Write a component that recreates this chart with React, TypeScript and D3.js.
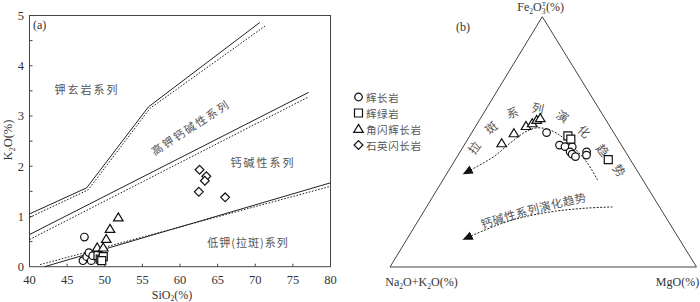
import React from "react";
import * as d3 from "d3";

// ---- panel (a): SiO2 vs K2O ----
const xTicks = [40, 45, 50, 55, 60, 65, 70, 75, 80];
const yTicks = [0, 1, 2, 3, 4, 5];

// boundary lines [SiO2, K2O]
const shoshSolid = [[40, 1.05], [47.6, 1.57], [55.8, 3.18], [70.6, 4.86]];
const shoshDotted = [[40, 0.98], [47.8, 1.53], [56, 3.15], [71.3, 4.79]];
const hkSolid = [[40, 0.64], [77.1, 3.47]];
const hkDotted = [[40, 0.54], [77.1, 3.38]];
const lowSolid = [[42, 0], [80, 1.67]];
const lowDotted = [[41.4, 0.04], [80, 1.6]];

// samples [SiO2, K2O]
const gabbroA = [[47.3, 0.59], [47.1, 0.12], [47.6, 0.2], [47.9, 0.28], [48.2, 0.12], [48.4, 0.22]];
const diabaseA = [[49.1, 0.22], [49.4, 0.15], [49.8, 0.2], [49.6, 0.12]];
const hornGabbroA = [[51.8, 0.98], [50.7, 0.75], [50.2, 0.55], [49.0, 0.38], [49.8, 0.38]];
const qzDioriteA = [[62.6, 1.93], [63.5, 1.8], [63.3, 1.71], [62.5, 1.49], [66.0, 1.38]];

// ---- panel (b): ternary [Na2O+K2O, Fe2O3T, MgO] ----
const gabbroB = [
  [21.9, 53.7, 24.4], [20.2, 48.7, 31.1], [18.7, 48.1, 33.2], [16.4, 48.0, 35.6],
  [18.1, 46.0, 35.9], [17.9, 45.1, 37.0], [17.3, 44.1, 38.6], [12.7, 46.0, 41.3], [13.4, 44.7, 41.9],
];
const diabaseB = [[15.6, 52.4, 32.0], [15.3, 51.1, 33.6], [7.2, 42.9, 49.9]];
const hornGabbroB = [
  [38.7, 49.4, 11.9], [32.7, 53.4, 13.9], [27.3, 56.3, 16.4],
  [24.7, 57.4, 17.9], [22.6, 58.7, 18.7], [21.1, 59.4, 19.5],
];
const thTrend = [
  [14.8, 34.7, 50.5], [14.7, 41.5, 43.8], [16.1, 47.9, 36.0], [18.6, 53.3, 28.1],
  [21.5, 55.3, 23.2], [24.7, 55.5, 19.8], [28.8, 53.9, 17.3], [35.9, 49.5, 14.6],
  [44.3, 43.9, 11.8], [57.6, 37.1, 5.3],
];
const caTrend = [
  [15.3, 24.0, 60.7], [24.3, 23.5, 52.2], [34.8, 22.3, 42.9],
  [45.8, 20.1, 34.1], [56.7, 16.7, 26.6], [70.8, 10.9, 18.3],
];

const legendNames = ["辉长岩", "辉绿岩", "角闪辉长岩", "石英闪长岩"];
const legendShapes = ["circle", "square", "triangle", "diamond"];

const serif = "Liberation Serif, DejaVu Serif, serif";
const cjk = "Noto Sans CJK SC, sans-serif";
const ink = "#222";

function marker(shape: string, x: number, y: number) {
  if (shape === "circle") {
    const p = d3.path();
    p.arc(x, y, 3.8, 0, Math.PI * 2);
    return p.toString();
  }
  if (shape === "square") {
    const s = 4;
    return `M${x - s},${y - s}H${x + s}V${y + s}H${x - s}Z`;
  }
  if (shape === "triangle") {
    const h = 4.6;
    return `M${x},${y - h}L${x + 4.8},${y + 3.4}L${x - 4.8},${y + 3.4}Z`;
  }
  const d = 4.4;
  return `M${x},${y - d}L${x + d},${y}L${x},${y + d}L${x - d},${y}Z`;
}

export default function App() {
  const x = d3.scaleLinear().domain([40, 80]).range([29.5, 330.5]);
  const y = d3.scaleLinear().domain([0, 5]).range([266.7, 15.5]);
  const line = d3
    .line<number[]>()
    .x((d) => x(d[0]))
    .y((d) => y(d[1]));

  // ternary vertices
  const BL = [390, 267];
  const TP = [542.3, 16.7];
  const BR = [696.5, 267];
  const tern = (d: number[]) => {
    const s = d[0] + d[1] + d[2];
    const a = d[0] / s, f = d[1] / s, m = d[2] / s;
    return [a * BL[0] + f * TP[0] + m * BR[0], a * BL[1] + f * TP[1] + m * BR[1]];
  };
  const tline = d3
    .line<number[]>()
    .x((d) => tern(d)[0])
    .y((d) => tern(d)[1])
    .curve(d3.curveCatmullRom);

  const minorY = d3.range(0, 5.01, 0.5);
  const groupsA: [string, number[][]][] = [
    ["circle", gabbroA],
    ["square", diabaseA],
    ["triangle", hornGabbroA],
    ["diamond", qzDioriteA],
  ];
  const groupsB: [string, number[][]][] = [
    ["circle", gabbroB],
    ["square", diabaseB],
    ["triangle", hornGabbroB],
  ];

  return (
    <svg
      width={700}
      height={302}
      style={{ position: "absolute", left: 0, top: 0, background: "#fff" }}
    >
      <defs>
        <marker
          id="arr"
          markerUnits="userSpaceOnUse"
          markerWidth={12}
          markerHeight={10}
          refX={10}
          refY={4.5}
          orient="auto"
        >
          <path d="M0,0L10,4.5L0,9Z" fill="#111" />
        </marker>
        <path id="thPath" d="M470,152 Q538,48 632,186" />
        <path id="caPath" d="M481,224 Q536,206 594,195" />
      </defs>

      {/* ---- panel (a) ---- */}
      <rect
        x={x(40)}
        y={y(5)}
        width={x(80) - x(40)}
        height={y(0) - y(5)}
        fill="none"
        stroke="#444"
        strokeWidth={1}
      />
      {xTicks.map((t) =>
        t > 40 && t < 80 ? (
          <line key={"xt" + t} x1={x(t)} x2={x(t)} y1={y(0)} y2={y(0) - 3} stroke="#444" />
        ) : null
      )}
      {minorY.map((t) =>
        t > 0 && t < 5 ? (
          <line key={"yt" + t} x1={x(40)} x2={x(40) + 3} y1={y(t)} y2={y(t)} stroke="#444" />
        ) : null
      )}
      {xTicks.map((t) => (
        <text
          key={"xl" + t}
          x={x(t)}
          y={284}
          textAnchor="middle"
          fontFamily={serif}
          fontSize={12.5}
          fill="#333"
        >
          {t}
        </text>
      ))}
      {yTicks.map((t) => (
        <text
          key={"yl" + t}
          x={24}
          y={y(t) + 4.5}
          textAnchor="end"
          fontFamily={serif}
          fontSize={12.5}
          fill="#333"
        >
          {t}
        </text>
      ))}
      <text x={172} y={298.5} textAnchor="middle" fontFamily={serif} fontSize={12} fill="#333">
        SiO<tspan fontSize={7.5} dy={2.5}>2</tspan>
        <tspan dy={-2.5}>(%)</tspan>
      </text>
      <text
        transform="translate(12,140) rotate(-90)"
        textAnchor="middle"
        fontFamily={serif}
        fontSize={12.5}
        fill="#333"
      >
        K<tspan fontSize={8} dy={3}>2</tspan>
        <tspan dy={-3}>O(%)</tspan>
      </text>
      <text x={33} y={29} fontFamily={serif} fontSize={12} fill="#333">
        (a)
      </text>

      {[shoshSolid, hkSolid, lowSolid].map((l, i) => (
        <path key={"s" + i} d={line(l) || ""} fill="none" stroke={ink} strokeWidth={1} />
      ))}
      {[shoshDotted, hkDotted, lowDotted].map((l, i) => (
        <path
          key={"d" + i}
          d={line(l) || ""}
          fill="none"
          stroke={ink}
          strokeWidth={1}
          strokeDasharray="1.6,1.6"
        />
      ))}

      <g fontFamily={cjk} fontSize={11} fill="#555" letterSpacing={2}>
        <text x={87} y={94} textAnchor="middle">钾玄岩系列</text>
        <text x={263} y={167} textAnchor="middle">钙碱性系列</text>
        <text x={248} y={247} textAnchor="middle" letterSpacing={1}>低钾(拉斑)系列</text>
        <text transform="translate(193,131) rotate(-33)" textAnchor="middle">
          高钾钙碱性系列
        </text>
      </g>

      {groupsA.map(([shape, pts]) =>
        pts.map((p, i) => (
          <path
            key={shape + "a" + i}
            d={marker(shape, x(p[0]), y(p[1]))}
            fill="#fff"
            stroke="#111"
            strokeWidth={1.2}
          />
        ))
      )}

      {/* ---- legend ---- */}
      {legendNames.map((n, i) => (
        <g key={n}>
          <path
            d={marker(legendShapes[i], 358.5, 97 + i * 16)}
            fill="#fff"
            stroke="#111"
            strokeWidth={1.2}
          />
          <text
            x={366}
            y={97 + i * 16}
            dominantBaseline="central"
            fontFamily={cjk}
            fontSize={10.5}
            fill="#555"
            letterSpacing={0.6}
          >
            {n}
          </text>
        </g>
      ))}

      {/* ---- panel (b) ---- */}
      <path
        d={`M${BL[0]},${BL[1]}L${TP[0]},${TP[1]}L${BR[0]},${BR[1]}Z`}
        fill="none"
        stroke="#444"
        strokeWidth={1}
      />
      <text x={TP[0] - 25} y={11} fontFamily={serif} fontSize={12} fill="#333">
        Fe<tspan fontSize={7.5} dy={3}>2</tspan>
        <tspan dy={-3}>O</tspan>
        <tspan fontSize={7.5} dy={3}>3</tspan>
        <tspan fontSize={7} dx={-3.8} dy={-8}>T</tspan>
        <tspan dy={5}>(%)</tspan>
      </text>
      <text x={421.5} y={286} textAnchor="middle" fontFamily={serif} fontSize={12} fill="#333">
        Na<tspan fontSize={7.5} dy={3}>2</tspan>
        <tspan dy={-3}>O+K</tspan>
        <tspan fontSize={7.5} dy={3}>2</tspan>
        <tspan dy={-3}>O(%)</tspan>
      </text>
      <text x={677.5} y={286} textAnchor="middle" fontFamily={serif} fontSize={12} fill="#333">
        MgO(%)
      </text>
      <text x={463} y={31} textAnchor="middle" fontFamily={serif} fontSize={12} fill="#333">
        (b)
      </text>

      <path
        d={tline(thTrend) || ""}
        fill="none"
        stroke="#222"
        strokeWidth={1}
        strokeDasharray="2,1.5"
        markerEnd="url(#arr)"
      />
      <path
        d={tline(caTrend) || ""}
        fill="none"
        stroke="#222"
        strokeWidth={1}
        strokeDasharray="2,1.5"
        markerEnd="url(#arr)"
      />

      <text fontFamily={cjk} fontSize={12} fill="#555" dominantBaseline="central" letterSpacing={14.5}>
        <textPath href="#thPath" startOffset={0}>
          拉斑系列演化趋势
        </textPath>
      </text>
      <text fontFamily={cjk} fontSize={11.5} fill="#555" dominantBaseline="central" letterSpacing={0.6}>
        <textPath href="#caPath" startOffset={0}>
          钙碱性系列演化趋势
        </textPath>
      </text>

      {groupsB.map(([shape, pts]) =>
        pts.map((p, i) => {
          const [px, py] = tern(p);
          return (
            <path
              key={shape + "b" + i}
              d={marker(shape, px, py)}
              fill="#fff"
              stroke="#111"
              strokeWidth={1.2}
            />
          );
        })
      )}
    </svg>
  );
}
